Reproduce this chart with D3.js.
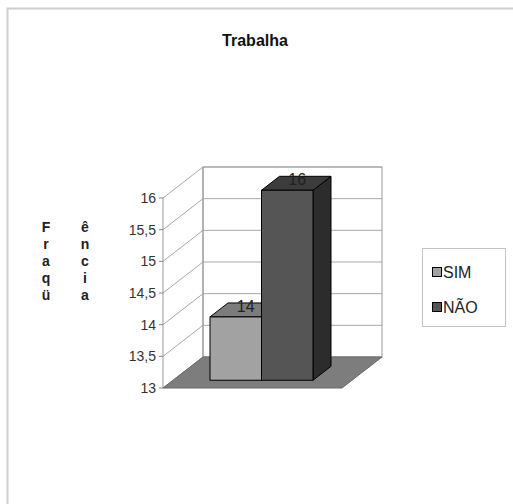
<!DOCTYPE html>
<html>
<head>
<meta charset="utf-8">
<script src="https://cdnjs.cloudflare.com/ajax/libs/d3/7.8.5/d3.min.js"></script>
<style>
  body { margin: 0; background: #fff; }
  svg { display: block; font-family: Arial, "Liberation Sans", sans-serif; }
</style>
</head>
<body>
<div id="chart"></div>
<script>
// data
var categories = ["SIM", "NÃO"];
var values = [14, 16];
var yTicks = [13, 13.5, 14, 14.5, 15, 15.5, 16];
var titleText = "Trabalha";
var axisLetters = ["Fraqü", "ência"];

var colors = {
  SIM: { front: "#a2a2a2", top: "#7c7c7c", side: "#6a6a6a" },
  "NÃO": { front: "#555555", top: "#3c3c3c", side: "#2c2c2c" }
};

var W = 513, H = 504;
var svg = d3.select("#chart").append("svg").attr("width", W).attr("height", H);

// outer frame (only left and top visible)
svg.append("path")
  .attr("d", "M7.5,504 L7.5,8.5 L513,8.5")
  .attr("fill", "none").attr("stroke", "#cfcfcf").attr("stroke-width", 2);

// 3d projection: front plane + depth
var x0 = 163, x1 = 342;
var depthX = 40, depthY = -31;
var y = d3.scaleLinear().domain([13, 16]).range([388, 198]);
var x = d3.scaleBand().domain(categories).range([200, 303]).padding(0);
function P(px, py, t) { return [px + depthX * t, py + depthY * t]; }
function poly(pts) { return pts.map(function (p) { return p.join(","); }).join(" "); }

var g = svg.append("g");

// back wall
var bx0 = x0 + depthX, bx1 = x1 + depthX;
g.append("rect")
  .attr("x", bx0).attr("y", y(16) + depthY)
  .attr("width", bx1 - bx0).attr("height", y(13) - y(16))
  .attr("fill", "#fff").attr("stroke", "#9a9a9a").attr("stroke-width", 1);

// gridlines on back wall and side wall
yTicks.forEach(function (v) {
  var a = P(x0, y(v), 0), b = P(x0, y(v), 1), c = P(x1, y(v), 1);
  g.append("polyline")
    .attr("points", poly([a, b, c]))
    .attr("fill", "none").attr("stroke", "#a8a8a8").attr("stroke-width", 1);
});
// side wall edges
g.append("line").attr("x1", x0).attr("x2", x0).attr("y1", y(13)).attr("y2", y(16))
  .attr("stroke", "#9a9a9a");
g.append("line").attr("x1", bx0).attr("x2", bx0).attr("y1", y(13) + depthY).attr("y2", y(16) + depthY)
  .attr("stroke", "#9a9a9a");

// floor
g.append("polygon")
  .attr("points", poly([P(x0, y(13), 0), P(x1, y(13), 0), P(x1, y(13), 1), P(x0, y(13), 1)]))
  .attr("fill", "#7d7d7d").attr("stroke", "#6a6a6a");

// y axis ticks and labels
var axis = svg.append("g");
yTicks.forEach(function (v) {
  axis.append("line").attr("x1", x0 - 4).attr("x2", x0).attr("y1", y(v)).attr("y2", y(v))
    .attr("stroke", "#888");
  axis.append("text")
    .attr("x", x0 - 7).attr("y", y(v) + 5)
    .attr("text-anchor", "end")
    .style("font-size", "14px").style("fill", "#333")
    .text(String(v).replace(".", ","));
});

// bars (front at depth .25, back at depth .7)
var tf = 0.25, tb = 0.7;
categories.forEach(function (cat, i) {
  var v = values[i];
  var l = x(cat), r = x(cat) + x.bandwidth();
  var top = y(v), bot = y(13);
  var c = colors[cat];
  var bar = g.append("g");
  // side face
  bar.append("polygon")
    .attr("points", poly([P(r, bot, tf), P(r, bot, tb), P(r, top, tb), P(r, top, tf)]))
    .attr("fill", c.side).attr("stroke", "#000").attr("stroke-width", 1);
  // top face
  bar.append("polygon")
    .attr("points", poly([P(l, top, tf), P(r, top, tf), P(r, top, tb), P(l, top, tb)]))
    .attr("fill", c.top).attr("stroke", "#000").attr("stroke-width", 1);
  // front face
  var f0 = P(l, top, tf), f1 = P(r, bot, tf);
  bar.append("rect")
    .attr("x", f0[0]).attr("y", f0[1])
    .attr("width", f1[0] - f0[0]).attr("height", f1[1] - f0[1])
    .attr("fill", c.front).attr("stroke", "#000").attr("stroke-width", 1);
  // value label
  svg.append("text")
    .attr("x", (f0[0] + f1[0]) / 2 + 10).attr("y", f0[1] - 5)
    .attr("text-anchor", "middle")
    .style("font-size", "16px").style("fill", "#222")
    .text(v);
});

// title
svg.append("text")
  .attr("x", 255).attr("y", 46)
  .attr("text-anchor", "middle")
  .style("font-size", "16px").style("font-weight", "bold").style("fill", "#111")
  .text(titleText);

// vertical axis title in two columns of letters
axisLetters.forEach(function (col, ci) {
  Array.from(col).forEach(function (ch, ri) {
    svg.append("text")
      .attr("x", 46 + ci * 39).attr("y", 232 + ri * 17)
      .attr("text-anchor", "middle")
      .style("font-size", "14px").style("font-weight", "bold").style("fill", "#222")
      .text(ch);
  });
});

// legend
var legend = svg.append("g");
legend.append("rect")
  .attr("x", 422.5).attr("y", 248.5).attr("width", 83).attr("height", 78)
  .attr("fill", "#fff").attr("stroke", "#c4c4c4");
categories.forEach(function (cat, i) {
  var ly = 267 + i * 35;
  legend.append("rect")
    .attr("x", 432.5).attr("y", ly + 0.5).attr("width", 9).attr("height", 9)
    .attr("fill", colors[cat].front).attr("stroke", "#000");
  legend.append("text")
    .attr("x", 443).attr("y", ly + 11)
    .style("font-size", "16px").style("fill", "#222")
    .text(cat);
});
</script>
</body>
</html>
